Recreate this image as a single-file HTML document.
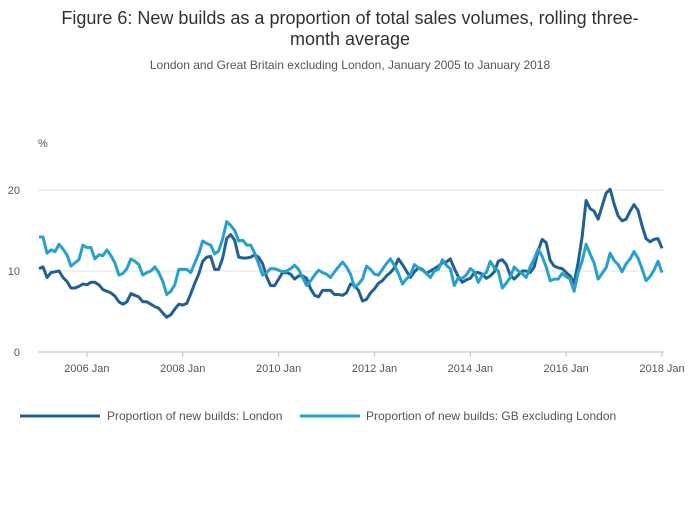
<!DOCTYPE html>
<html><head><meta charset="utf-8"><style>
body{margin:0;background:#fff;font-family:"Liberation Sans",sans-serif}
svg text{font-family:"Liberation Sans",sans-serif}
</style></head><body>
<svg width="700" height="502" viewBox="0 0 700 502">
<text x="350" y="24" text-anchor="middle" font-size="18" fill="#323132">Figure 6: New builds as a proportion of total sales volumes, rolling three-</text>
<text x="350" y="45" text-anchor="middle" font-size="18" fill="#323132">month average</text>
<text x="350" y="69" text-anchor="middle" font-size="12" fill="#555">London and Great Britain excluding London, January 2005 to January 2018</text>
<text x="38" y="147" font-size="11" fill="#555">%</text>
<g id="grid"></g><g id="xt"></g><g id="lines"></g>
<g>
<line x1="20" y1="416" x2="100" y2="416" stroke="#206095" stroke-width="3"/>
<text x="107" y="420" font-size="12" fill="#555">Proportion of new builds: London</text>
<line x1="300" y1="416" x2="360" y2="416" stroke="#27a0cc" stroke-width="3"/>
<text x="366" y="420" font-size="12" fill="#555">Proportion of new builds: GB excluding London</text>
</g>
</svg>
<script>
const yTicks=[0,10,20];
const xTickLabels=["2006 Jan","2008 Jan","2010 Jan","2012 Jan","2014 Jan","2016 Jan","2018 Jan"];
const xTickMonths=[12,36,60,84,108,132,156];
const london=[10.3,10.5,9.2,9.8,9.9,10,9.2,8.7,7.9,7.9,8.1,8.4,
8.3,8.6,8.6,8.3,7.7,7.5,7.3,6.9,6.2,5.9,6.2,7.2,
7.0,6.8,6.2,6.2,5.9,5.6,5.4,4.8,4.3,4.6,5.3,5.9,
5.8,6.0,7.2,8.5,9.6,11.2,11.7,11.8,10.2,10.2,11.6,14.0,
14.5,13.8,11.7,11.6,11.6,11.7,12.0,11.7,10.9,9.3,8.2,8.2,
9.0,9.8,9.8,9.6,9.0,9.4,9.4,9.1,7.8,7.0,6.8,7.6,
7.6,7.6,7.1,7.1,7.0,7.3,8.4,8.2,7.6,6.3,6.5,7.3,
7.8,8.5,8.8,9.4,9.8,10.4,11.5,10.8,10.0,9.2,9.9,10.4,
10.2,9.7,10.0,10.3,10.6,11.0,11.1,11.5,10.3,9.3,8.6,8.9,
9.1,9.8,9.8,9.6,9.1,9.4,9.9,11.2,11.4,10.8,9.5,9.0,
9.5,10.0,10.0,9.8,10.5,12.5,13.9,13.5,11.3,10.6,10.4,10.3,
9.8,9.4,8.5,11.0,14.2,18.7,17.7,17.4,16.4,18.0,19.6,20.1,
18.3,16.8,16.2,16.4,17.4,18.2,17.5,15.6,14.0,13.6,13.9,14.0,
12.8];
const gb=[14.2,14.2,12.2,12.6,12.4,13.3,12.7,12.0,10.6,11.0,11.4,13.2,
12.9,12.9,11.5,12.0,11.9,12.6,11.9,11.0,9.5,9.7,10.3,11.5,
11.2,10.8,9.5,9.8,10.0,10.5,9.8,8.7,7.1,7.5,8.3,10.2,
10.2,10.2,9.8,11.0,12.1,13.7,13.4,13.2,12.1,12.5,14.0,16.1,
15.6,15.0,13.7,13.8,13.2,13.2,12.2,10.9,9.5,9.8,10.3,10.3,
10.1,9.9,10.0,10.3,10.7,10.2,9.2,8.2,8.8,9.5,10.1,9.8,
9.6,9.2,9.9,10.5,11.1,10.5,9.6,8.0,8.4,9.0,10.6,10.2,
9.6,9.5,10.2,10.9,11.5,10.7,9.7,8.4,9.0,9.5,10.8,10.4,
10.1,9.7,9.2,10.0,10.2,11.4,10.7,10.3,8.2,9.2,9.1,9.5,
10.3,9.9,8.6,9.5,9.8,11.2,10.4,10.0,7.9,8.5,9.2,10.5,
10.0,9.7,9.2,10.5,11.5,12.7,11.8,10.5,8.8,9.0,9.0,9.7,
9.3,9.0,7.5,9.8,11.2,13.3,12.1,11.0,9.0,9.7,10.4,12.2,
11.3,10.8,9.9,10.9,11.5,12.4,11.6,10.3,8.8,9.3,10.1,11.2,
9.8];
const NS="http://www.w3.org/2000/svg";
const X0=39,X1=662,Y0=352,PX=8.1,N=156;
function xs(m){return X0+(X1-X0)*m/N;}
function ys(v){return Y0-v*PX;}
const grid=document.getElementById('grid'),xt=document.getElementById('xt'),lines=document.getElementById('lines');
yTicks.forEach(t=>{
 const l=document.createElementNS(NS,'line');
 l.setAttribute('x1',38);l.setAttribute('x2',664);l.setAttribute('y1',ys(t));l.setAttribute('y2',ys(t));
 l.setAttribute('stroke',t===0?'#bbb':'#e0e0e0');l.setAttribute('stroke-width',1);
 
 
 grid.appendChild(l);
 const tx=document.createElementNS(NS,'text');
 tx.setAttribute('x',20);tx.setAttribute('y',ys(t)+4);tx.setAttribute('text-anchor','end');
 tx.setAttribute('font-size',11);tx.setAttribute('fill','#555');tx.textContent=t;
 
 
 grid.appendChild(tx);
});
xTickLabels.forEach((lab,i)=>{
 const x=xs(xTickMonths[i]);
 const l=document.createElementNS(NS,'line');
 l.setAttribute('x1',x);l.setAttribute('x2',x);l.setAttribute('y1',352);l.setAttribute('y2',357);
 l.setAttribute('stroke','#bbb');
 
 
 xt.appendChild(l);
 const tx=document.createElementNS(NS,'text');
 tx.setAttribute('x',x);tx.setAttribute('y',372);tx.setAttribute('text-anchor','middle');
 tx.setAttribute('font-size',11);tx.setAttribute('fill','#555');tx.textContent=lab;
 
 
 xt.appendChild(tx);
});
function draw(arr,color,name){
 const p=document.createElementNS(NS,'polyline');
 p.setAttribute('points',arr.map((v,i)=>xs(i).toFixed(1)+','+ys(v).toFixed(1)).join(' '));
 p.setAttribute('fill','none');p.setAttribute('stroke',color);p.setAttribute('stroke-width',3);
 p.setAttribute('stroke-linejoin','round');
 
 
 lines.appendChild(p);
}
draw(london,'#206095','line-london');
draw(gb,'#27a0cc','line-gb-excluding-london');
</script>
</body></html>
